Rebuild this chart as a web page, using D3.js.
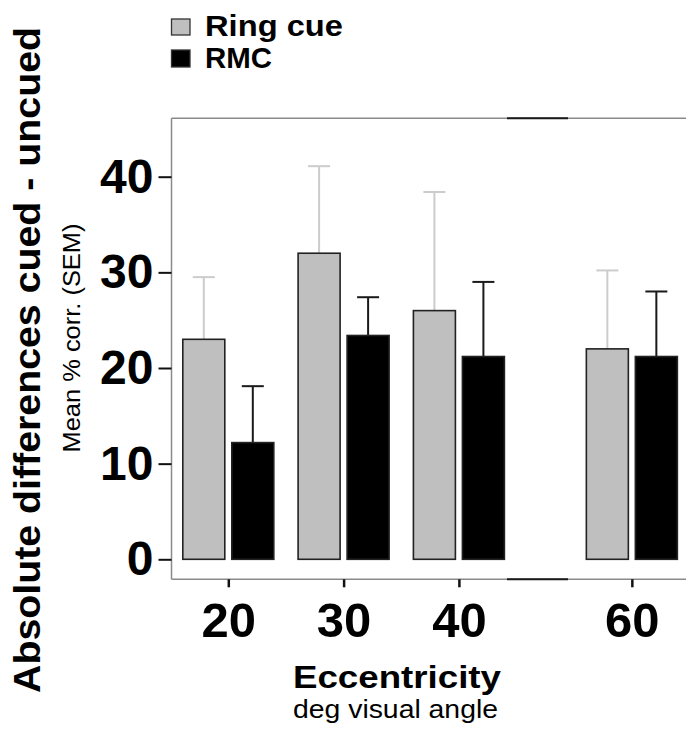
<!DOCTYPE html>
<html>
<head>
<meta charset="utf-8">
<script src="https://cdn.jsdelivr.net/npm/d3@7"></script>
<style>
  html, body { margin: 0; padding: 0; background: #fff; }
  svg { display: block; }
  text { font-family: "Liberation Sans", Arial, Helvetica, sans-serif; }
</style>
</head>
<body>
<script>
// ---- data ----
const categories = ["20", "30", "40", "60"];
const seriesNames = ["Ring cue", "RMC"];
const ringCue = [23.0, 32.0, 26.0, 22.0];
const ringCueSEM = [6.5, 9.1, 12.4, 8.2];
const rmc = [12.2, 23.4, 21.2, 21.2];
const rmcSEM = [5.9, 4.0, 7.8, 6.8];
const yTicks = [0, 10, 20, 30, 40];

// ---- layout ----
const W = 686, H = 734;
const frame = { left: 171.5, top: 118.3, right: 686, bottom: 579.3 };
const slot = [0, 1, 2, 3.5]; // 60 is placed after an axis gap
const barW = 42, innerGap = 7;

const svg = d3.select("body").append("svg").attr("width", W).attr("height", H);

const y = d3.scaleLinear().domain([0, 40]).range([559.3, 176.7]);
const xs = d3.scaleLinear().domain([0, 1]).range([228.3, 343.6]);
const x = d3.scaleOrdinal().domain(categories).range(categories.map((c, i) => xs(slot[i])));

// frame lines
const fr = svg.append("g");
fr.append("line").attr("x1", frame.left).attr("x2", frame.right).attr("y1", frame.top).attr("y2", frame.top)
  .attr("stroke", "#8a8a8a").attr("stroke-width", 1.5);
fr.append("line").attr("x1", frame.left).attr("x2", frame.right).attr("y1", frame.bottom).attr("y2", frame.bottom)
  .attr("stroke", "#8a8a8a").attr("stroke-width", 1.5);
fr.append("line").attr("x1", frame.left).attr("x2", frame.left).attr("y1", frame.top).attr("y2", frame.bottom)
  .attr("stroke", "#8a8a8a").attr("stroke-width", 1.5);
// break marks between 40 and 60
[frame.top, frame.bottom].forEach(yy => {
  fr.append("line").attr("x1", 507).attr("x2", 568).attr("y1", yy).attr("y2", yy)
    .attr("stroke", "#1a1a1a").attr("stroke-width", 2);
});

// y axis
const yAxis = svg.append("g").attr("transform", `translate(${frame.left},0)`)
  .call(d3.axisLeft(y).tickValues(yTicks).tickSize(13).tickPadding(5).tickFormat(d3.format("d")));
yAxis.select(".domain").remove();
yAxis.selectAll(".tick line").attr("stroke", "#111").attr("stroke-width", 2);
yAxis.selectAll(".tick text").attr("fill", "#000").style("font-size", "48px").style("font-weight", "bold");

// x axis
const xAxis = svg.append("g").attr("transform", `translate(0,${frame.bottom})`)
  .call(d3.axisBottom(x).tickSize(8).tickPadding(14.5));
xAxis.select(".domain").remove();
xAxis.selectAll(".tick line").attr("stroke", "#111").attr("stroke-width", 2.5);
xAxis.selectAll(".tick text").attr("fill", "#000").style("font-size", "49px").style("font-weight", "bold");

// bars
const series = [
  { name: seriesNames[0], vals: ringCue, sem: ringCueSEM, fill: "#bfbfbf", err: "#cccccc", off: -innerGap / 2 - barW },
  { name: seriesNames[1], vals: rmc, sem: rmcSEM, fill: "#000000", err: "#1a1a1a", off: innerGap / 2 }
];

series.forEach(s => {
  const g = svg.append("g");
  const data = categories.map((c, i) => ({ c, v: s.vals[i], e: s.sem[i] }));
  g.selectAll("line.err").data(data).enter().append("line")
    .attr("x1", d => x(d.c) + s.off + barW / 2).attr("x2", d => x(d.c) + s.off + barW / 2)
    .attr("y1", d => y(d.v)).attr("y2", d => y(d.v + d.e))
    .attr("stroke", s.err).attr("stroke-width", 2);
  g.selectAll("line.cap").data(data).enter().append("line")
    .attr("x1", d => x(d.c) + s.off + barW / 2 - 11).attr("x2", d => x(d.c) + s.off + barW / 2 + 11)
    .attr("y1", d => y(d.v + d.e)).attr("y2", d => y(d.v + d.e))
    .attr("stroke", s.err).attr("stroke-width", 2);
  g.selectAll("rect").data(data).enter().append("rect")
    .attr("x", d => x(d.c) + s.off).attr("width", barW)
    .attr("y", d => y(d.v)).attr("height", d => y(0) - y(d.v))
    .attr("fill", s.fill).attr("stroke", "#222").attr("stroke-width", 1.6);
});

// axis titles
svg.append("text").attr("x", 397).attr("y", 688).attr("text-anchor", "middle")
  .attr("textLength", 208).attr("lengthAdjust", "spacingAndGlyphs")
  .style("font-size", "30.5px").style("font-weight", "bold").text("Eccentricity");
svg.append("text").attr("x", 395.5).attr("y", 717.5).attr("text-anchor", "middle")
  .attr("textLength", 205).attr("lengthAdjust", "spacingAndGlyphs")
  .style("font-size", "25px").text("deg visual angle");

svg.append("text").attr("transform", "translate(40,360) rotate(-90)").attr("text-anchor", "middle")
  .attr("textLength", 666).attr("lengthAdjust", "spacingAndGlyphs")
  .style("font-size", "36.5px").style("font-weight", "bold").text("Absolute differences cued - uncued");
svg.append("text").attr("transform", "translate(80,338) rotate(-90)").attr("text-anchor", "middle")
  .attr("textLength", 229).attr("lengthAdjust", "spacingAndGlyphs")
  .style("font-size", "23.5px").text("Mean % corr. (SEM)");

// legend
const legend = svg.append("g");
const legItems = [
  { name: seriesNames[0], fill: "#bfbfbf", y: 19, h: 16, tl: 138, base: 36 },
  { name: seriesNames[1], fill: "#000000", y: 50, h: 17, tl: 67, base: 67.5 }
];
legItems.forEach(it => {
  legend.append("rect").attr("x", 171.5).attr("y", it.y).attr("width", 18.5).attr("height", it.h)
    .attr("fill", it.fill).attr("stroke", "#333").attr("stroke-width", 1.3);
  legend.append("text").attr("x", 205).attr("y", it.base)
    .attr("textLength", it.tl).attr("lengthAdjust", "spacingAndGlyphs")
    .style("font-size", "30px").style("font-weight", "bold").text(it.name);
});
</script>
</body>
</html>
